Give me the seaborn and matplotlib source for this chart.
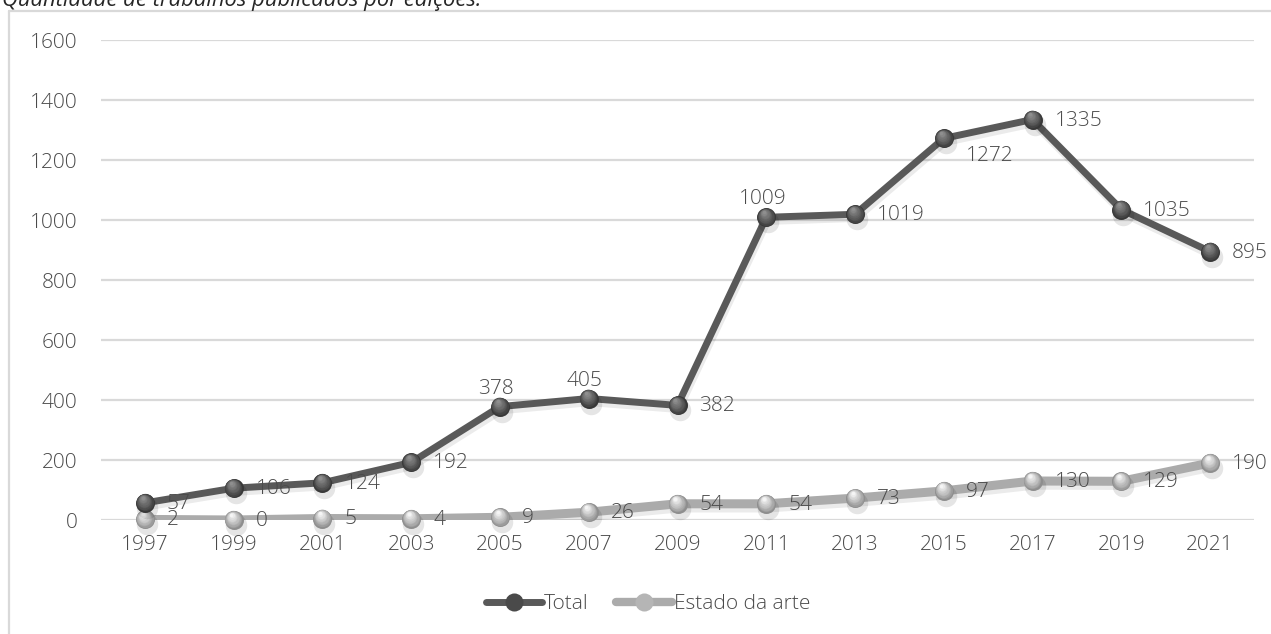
import numpy as np
import pandas as pd
import matplotlib
matplotlib.use("Agg")
import matplotlib.pyplot as plt
import matplotlib.transforms as mtransforms
import matplotlib.patheffects as pe
from matplotlib.lines import Line2D
import seaborn as sns

# ---- data -------------------------------------------------------------
anos = [1997, 1999, 2001, 2003, 2005, 2007, 2009, 2011, 2013, 2015, 2017, 2019, 2021]
total = [57, 106, 124, 192, 378, 405, 382, 1009, 1019, 1272, 1335, 1035, 895]
estado_da_arte = [2, 0, 5, 4, 9, 26, 54, 54, 73, 97, 130, 129, 190]
y_ticks = [0, 200, 400, 600, 800, 1000, 1200, 1400, 1600]
titulo = "Quantidade de trabalhos publicados por edições."
serie_total = "Total"
serie_estado = "Estado da arte"

# label placement per point: "r" right, "a" above, "br" below-right
pos_total = ["r", "r", "r", "r", "a", "a", "r", "a", "r", "br", "r", "r", "r"]

df = pd.DataFrame({
    "pos": list(range(len(anos))) * 2,
    "valor": total + estado_da_arte,
    "serie": [serie_total] * len(anos) + [serie_estado] * len(anos),
})

# ---- figure -------------------------------------------------------------
sns.set_theme(style="white")
plt.rcParams["font.family"] = ["Open Sans", "DejaVu Sans"]
plt.rcParams["font.weight"] = "light"
W, H, DPI = 1271, 634, 100
fig = plt.figure(figsize=(W / DPI, H / DPI), dpi=DPI)
PX = 72.0 / DPI  # points per pixel

left, right, top, bottom = 100.6, 1254.4, 40, 520
ax = fig.add_axes([left / W, 1 - bottom / H, (right - left) / W, (bottom - top) / H])

txt_color = "#4a4a4a"
grid_color = "#d9d9d9"

styles = {
    serie_total: dict(line="#595959", lw=5.0, base="#383838", hi="#8f8f8f", z=5),
    serie_estado: dict(line="#ababab", lw=6.5, base="#8e8e8e", hi="#f5f5f5", z=3),
}

for serie, st in styles.items():
    sub = df[df["serie"] == serie]
    sns.lineplot(data=sub, x="pos", y="valor", color=st["line"], linewidth=st["lw"],
                 ax=ax, legend=False, zorder=st["z"],
                 path_effects=[pe.SimpleLineShadow(offset=(1, -3), shadow_color="#000000",
                                                   alpha=0.08), pe.Normal()])
    ax.lines[-1].set_solid_capstyle("round")

    # drop shadow under the balls
    shadow = mtransforms.offset_copy(ax.transData, fig=fig, x=2, y=-5, units="dots")
    sns.scatterplot(data=sub, x="pos", y="valor", s=240, color="#000000", alpha=0.10,
                    linewidth=0, ax=ax, legend=False, transform=shadow,
                    zorder=st["z"] + 0.1, clip_on=False)

    # shaded ball: stacked discs getting smaller and lighter toward the top
    base = np.array(matplotlib.colors.to_rgb(st["base"]))
    hi = np.array(matplotlib.colors.to_rgb(st["hi"]))
    d = 19.0  # diameter in px
    n = 10
    for i, t in enumerate(np.linspace(0, 1, n)):
        diam = d * (1 - 0.82 * t)
        off = mtransforms.offset_copy(ax.transData, fig=fig, x=-0.6 * t * d * 0.2,
                                      y=t * d * 0.27, units="dots")
        col = base + (hi - base) * (t ** 0.9)
        sns.scatterplot(data=sub, x="pos", y="valor", s=(diam * PX) ** 2, color=col,
                        linewidth=0, ax=ax, legend=False, transform=off,
                        zorder=st["z"] + 0.2 + i * 0.01, clip_on=False)

ax.set_xlim(-0.5, len(anos) - 0.5)
ax.set_ylim(0, 1600)
ax.set_xlabel("")
ax.set_ylabel("")
for s in ax.spines.values():
    s.set_visible(False)
ax.set_yticks(y_ticks)
ax.yaxis.grid(True, color=grid_color, linewidth=1.6)
ax.set_axisbelow(True)
ax.set_xticks(range(len(anos)))
ax.set_xticklabels([str(a) for a in anos])
ax.tick_params(axis="x", length=0, pad=15 * PX, labelsize=15, labelcolor=txt_color)
ax.tick_params(axis="y", length=0, pad=23 * PX, labelsize=15, labelcolor=txt_color)

# ---- data labels ---------------------------------------------------------
lab_kw = dict(fontsize=15, color=txt_color, textcoords="offset points", zorder=10,
              annotation_clip=False)
for i, (v, p) in enumerate(zip(total, pos_total)):
    if p == "r":
        ax.annotate(str(v), (i, v), xytext=(22 * PX, -1 * PX), ha="left", va="center", **lab_kw)
    elif p == "br":
        ax.annotate(str(v), (i, v), xytext=(22 * PX, -18 * PX), ha="left", va="center", **lab_kw)
    else:
        ax.annotate(str(v), (i, v), xytext=(-4 * PX, 18 * PX), ha="center", va="center", **lab_kw)

for i, v in enumerate(estado_da_arte):
    ax.annotate(str(v), (i, v), xytext=(22 * PX, -1 * PX), ha="left", va="center", **lab_kw)

# ---- legend --------------------------------------------------------------
handles = [
    Line2D([], [], color=styles[serie_total]["line"], lw=5.0, marker="o", markersize=13,
           markerfacecolor="#4a4a4a", markeredgewidth=0),
    Line2D([], [], color=styles[serie_estado]["line"], lw=6.0, marker="o", markersize=13,
           markerfacecolor="#b5b5b5", markeredgewidth=0),
]
leg = fig.legend(handles, [serie_total, serie_estado], loc="center",
                 bbox_to_anchor=(648 / W, 1 - 604 / H), ncol=2, frameon=False,
                 fontsize=15, handlelength=2.7, handletextpad=0.1, columnspacing=1.3)
for t in leg.get_texts():
    t.set_color(txt_color)

# ---- chart frame and caption ---------------------------------------------------
fig.add_artist(Line2D([9 / W, 1], [1 - 11 / H, 1 - 11 / H], color=grid_color, lw=1.6,
                      transform=fig.transFigure))
fig.add_artist(Line2D([9 / W, 9 / W], [0, 1 - 11 / H], color=grid_color, lw=1.6,
                      transform=fig.transFigure))
fig.text(2 / W, 1 - 6 / H, titulo, fontsize=15.8, style="italic", fontweight="normal",
         color="#262626", ha="left", va="baseline")

fig.savefig("out.png", dpi=DPI)
